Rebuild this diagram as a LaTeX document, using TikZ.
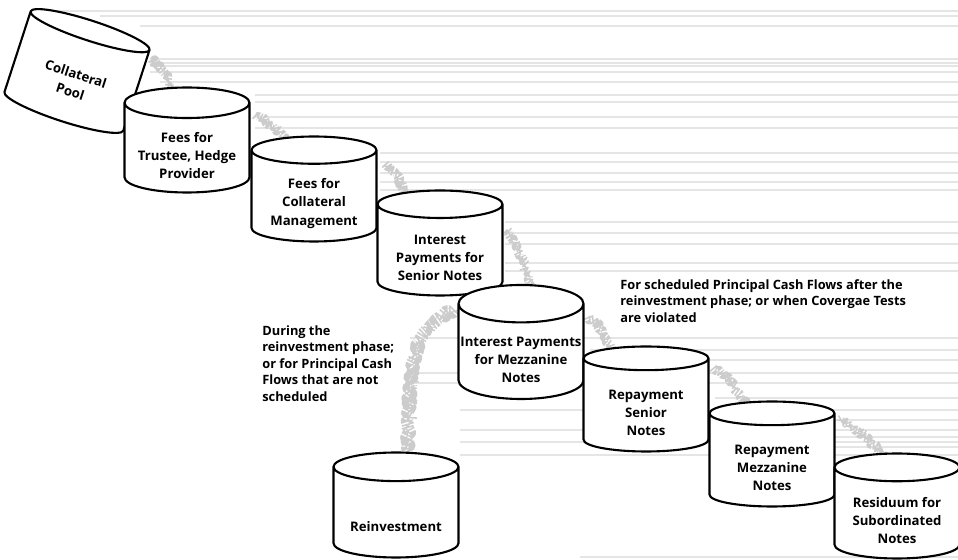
\documentclass[tikz,border=0pt]{standalone}
\usepackage{fontspec}
\setmainfont{Open Sans}
\usepackage{tikz}
\usetikzlibrary{shapes.geometric}
\usetikzlibrary{decorations.pathmorphing}
\usetikzlibrary{calc}

\pgfdeclarelayer{background}
\pgfsetlayers{background,main}

\newcommand{\lidgap}[1]{\rule{0pt}{#1}}

\tikzset{
  tank/.style={cylinder, shape border rotate=90, draw, fill=white,
    line width=1.2pt, minimum width=2.5cm, minimum height=2.1cm,
    aspect=0.3, anchor=shape center, align=center, inner sep=1pt,
    font=\bfseries\fontsize{7.5}{10.4}\selectfont},
  flow/.style={draw=gray!40, line width=5pt, line join=round,
    dash pattern=on 0.9pt off 0.9pt,
    decorate, decoration={random steps,segment length=1.2pt,amplitude=1.2pt}},
  note/.style={align=left, anchor=north west, inner sep=0pt,
    font=\bfseries\fontsize{7.3}{9.4}\selectfont},
  scanline/.style={draw=gray!20, line width=0.6pt}
}

\begin{document}
\begin{tikzpicture}[x=0.02cm,y=0.02cm]
  \useasboundingbox (0,0) rectangle (958,-560);

  \node[tank,rotate=-18] at (77,-71) (pool) {\lidgap{12pt}Collateral\\Pool};
  \node[tank] at (187,-140) (trustee) {\lidgap{12pt}Fees for\\Trustee, Hedge\\Provider};
  \node[tank] at (314,-189) (mgmt) {\lidgap{12pt}Fees for\\Collateral\\Management};
  \node[tank] at (440,-243) (intsen) {\lidgap{12pt}Interest\\Payments for\\Senior Notes};
  \node[tank] at (521,-342) (intmez) {\lidgap{12pt}Interest Payments\\for Mezzanine\\Notes};
  \node[tank] at (646,-399) (repsen) {\lidgap{12pt}Repayment\\Senior\\Notes};
  \node[tank] at (772,-454) (repmez) {\lidgap{12pt}Repayment\\Mezzanine\\Notes};
  \node[tank] at (897,-506) (resid) {\lidgap{12pt}Residuum for\\Subordinated\\Notes};
  \node[tank] at (396,-505) (reinv) {\lidgap{20pt}Reinvestment};

  \node[note] at (262,-325) (during) {During the\\reinvestment phase;\\or for Principal Cash\\Flows that are not\\scheduled};
  \node[note] at (620,-279) (sched) {For scheduled Principal Cash Flows after the\\reinvestment phase; or when Covergae Tests\\are violated};

  \begin{pgfonlayer}{background}
    % faint scan lines
    \foreach \yy/\xx in {11/40,16/100,26/140,59/150,63/150,66/150,72/150,82/160,
      95/255,102/255,117/255,128/255,153/380,162/380,173/380,182/380,190/380,
      222/505,233/505,244/505,263/505,271/505,338/410,350/590,360/590,373/410,
      383/410,398/715,410/460,420/715,430/460,437/715,442/460,447/715,455/460,557/580}
      \draw[scanline] (\xx,-\yy) -- (958,-\yy);

    \draw[flow] ($(pool.center)+(77,18)$) to[out=-40,in=110] ($(trustee.center)+(-10,46)$);
    \draw[flow] ($(trustee.center)+(68,35)$) to[out=-30,in=120] ($(mgmt.center)+(-22,47)$);
    \draw[flow] ($(mgmt.center)+(71,34)$) to[out=-30,in=120] ($(intsen.center)+(-30,46)$);
    \draw[flow] ($(intsen.center)+(68,21)$) to[out=-60,in=100] ($(intmez.center)+(14,46)$);
    \draw[flow] ($(intmez.center)+(67,37)$) to[out=-30,in=120] ($(repsen.center)+(-31,49)$);
    \draw[flow] ($(repsen.center)+(67,39)$) to[out=-30,in=120] ($(repmez.center)+(-22,50)$);
    \draw[flow] ($(repmez.center)+(68,42)$) to[out=-30,in=120] ($(resid.center)+(-7,48)$);
    \draw[flow,line width=7pt] ($(intmez.center)+(-66,44)$) to[out=200,in=80] ($(reinv.center)+(9,48)$);
  \end{pgfonlayer}

\end{tikzpicture}
\end{document}
